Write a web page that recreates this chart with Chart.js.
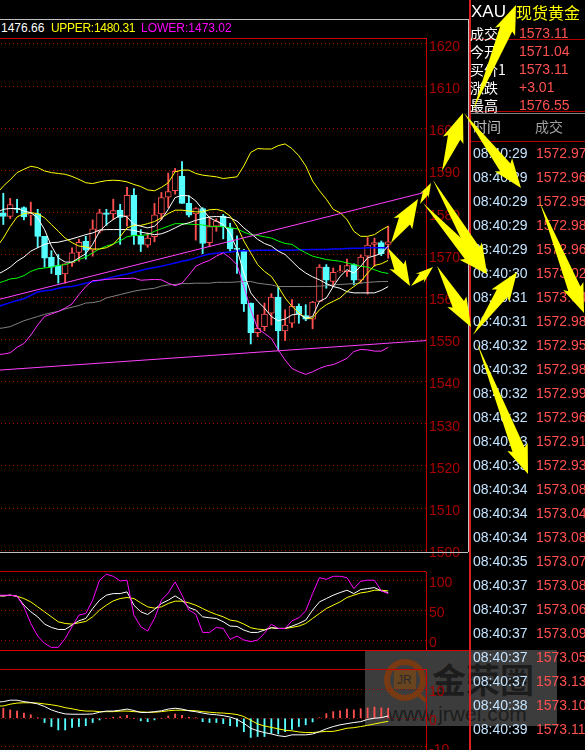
<!DOCTYPE html>
<html>
<head>
<meta charset="utf-8">
<script src="https://cdn.jsdelivr.net/npm/chart.js@4"></script>
<style>
html, body { margin: 0; background: #000; overflow: hidden; }
#page { position: relative; width: 585px; height: 750px; overflow: hidden; background: #000; font-family: "Liberation Sans", sans-serif; }
canvas, .txt, .rule, svg, #mark { position: absolute; }
.txt { white-space: nowrap; font-size: 14px; line-height: 18px; }
.cjk { font-family: "Noto Sans CJK SC", sans-serif; }
</style>
</head>
<body>
<div id="page">
    <div id="mark" style="left:365px;top:650px;width:192px;height:76px;background:#3c3c3c">
        <svg width="192" height="76" style="left:0;top:0">
            <circle cx="40" cy="30" r="18" fill="none" stroke="rgb(120,58,18)" stroke-width="6"></circle>
            <path d="M52 43 L61 51" stroke="rgb(120,58,18)" stroke-width="4"></path>
            <rect x="29" y="20" width="22" height="19" fill="rgb(105,68,30)"></rect>
            <text x="32" y="34" font-size="12" fill="#2a2a2a" font-family="Liberation Sans">JR</text>
        </svg>
        <div class="txt cjk" style="left:67px;top:9px;font-size:34px;line-height:40px;font-weight:700;color:#1c1c1c">金荣圈</div>
        <div class="txt" style="left:23px;top:53px;font-size:21px;line-height:22px;color:#1c1c1c">www.jrwei.com</div>
    </div>
    <canvas id="price-chart" style="left:-7px;top:38px"></canvas>
    <canvas id="kdj-chart" style="left:-7px;top:572px"></canvas>
    <canvas id="macd-chart" style="left:-7px;top:669px"></canvas>
    <div id="panel"></div>
    <svg id="arrows" width="585" height="750" style="left:0;top:0"></svg>
</div>
<script>
// candles, oldest first
const opens = [1580,1579.1,1581.1,1581.2,1579.4,1579.8,1574.4,1569.4,1567.5,1565.5,1568.1,1570.6,1573.2,1571.1,1575.6,1580,1579.7,1580.6,1579.2,1584.1,1574.4,1572.3,1574.3,1579.7,1583.7,1585.2,1588.7,1582.2,1579.7,1581,1572.9,1576.8,1579.2,1576.4,1571.6,1571.1,1558.6,1551.6,1553,1556.2,1560,1552,1553.8,1557.8,1555.6,1554.8,1559,1567.1,1563.7,1566,1566,1567.7,1564,1569.7,1572.5,1572.9,1572.5];
const closes = [1579.1,1581.9,1580.8,1579,1579.8,1574.4,1569.2,1567.1,1565.3,1567.9,1570.5,1573,1571.1,1576.2,1580,1579.6,1580.5,1578.9,1584.1,1574.6,1572.5,1574,1579.5,1583.6,1585,1589.8,1582.2,1579.4,1581,1572.7,1576.7,1578,1576.7,1571.4,1571.3,1558.4,1551.6,1552.6,1556,1560,1552,1553.4,1557.8,1556,1554.8,1558.8,1567.1,1564,1565.9,1566.2,1567.5,1564,1569.5,1572.3,1572.9,1570.3,1573.1];
const highs = [1584.6,1583.4,1583.2,1581.4,1582.5,1580.8,1574.4,1571,1570.1,1567.9,1571.7,1573.7,1574.4,1578.3,1580.8,1580.8,1583.2,1582,1586,1585.7,1576,1575.2,1582.2,1584.8,1589.4,1590.5,1592.1,1584,1581.2,1581.2,1579,1578.6,1579.6,1577.5,1574.5,1571.3,1558.6,1555.8,1558.6,1560.8,1562.5,1557,1559.4,1558.4,1558.2,1559,1567.7,1567.7,1566.9,1567.5,1569,1567.9,1570,1574.1,1574,1573.3,1576.8];
const lows = [1577.2,1578.6,1580,1578.3,1577,1571.7,1567.1,1565.6,1563.3,1563.3,1567.3,1568.5,1569,1569.7,1575.2,1577,1578.4,1572.5,1576.8,1572.5,1570.8,1571.8,1573.1,1578.3,1581.2,1584.4,1582.2,1579,1573.5,1570.3,1572,1575.6,1573.8,1570.9,1565.6,1556.6,1548.9,1550.6,1552,1553.4,1547.5,1549.7,1552.8,1553.8,1554.4,1552.5,1559,1562.1,1562.5,1565.9,1564.9,1562.9,1563.3,1560.7,1567.3,1569.8,1569.2];

// overlay lines on the price panel, first value belongs to the slot cut off at the left edge
const upperBand = [1584.4,1586.3,1587.8,1589.5,1590.3,1591,1590.7,1589.9,1589.5,1589.3,1589.1,1588.6,1587.9,1587.1,1586.9,1587.3,1587.6,1587.7,1587.6,1587.3,1586.7,1586.2,1585.4,1585.2,1586,1587.1,1589.7,1590.1,1590.1,1589.3,1588.9,1588.7,1588.5,1588.1,1588.3,1588.5,1591.1,1594.3,1595.2,1595.1,1595.1,1595.9,1596.3,1595.2,1593.5,1591.1,1587.5,1585.2,1583.2,1580.8,1580,1578.4,1575.6,1574.4,1574.4,1574.8,1575.9,1576.8];
const lowerBand = [1546.4,1546.5,1546.8,1548.1,1549,1551,1553.4,1555.4,1556,1556.6,1557.4,1558.4,1560.6,1562.5,1563.9,1564,1564.2,1564.3,1564.4,1564.4,1564.5,1564,1564.1,1564.2,1564.1,1563.3,1562.7,1563.3,1565.2,1567.3,1568.1,1568.7,1569.7,1570.5,1569.3,1567.7,1562.5,1557,1552.6,1551.4,1550.2,1547.5,1545.1,1543.1,1542.3,1541.7,1542.3,1543.1,1543.7,1544,1544.7,1545.5,1547.1,1547.6,1547.5,1547.2,1547.2,1548.1];
const ma5 = [1580,1580.8,1581,1581,1580.4,1580,1578.8,1576,1572.1,1569.3,1568.3,1568.3,1569.3,1570.3,1572.5,1575.6,1577.2,1578.4,1579.4,1579,1577.2,1576.8,1576.4,1576.8,1578.4,1580.8,1583.6,1584.1,1584,1582.8,1580.8,1578.8,1578,1577.2,1575.2,1571.3,1565.7,1561,1559,1557.4,1555.4,1554.4,1554.8,1555.8,1556,1555,1555.4,1559,1559.8,1562.5,1564.9,1566.5,1565.7,1567.3,1569.3,1569.8,1570.3,1572.1];
const ma10 = [1571.7,1574,1576.7,1579,1579.8,1580,1579.8,1578.8,1577.2,1575.6,1574,1572.9,1572.1,1571.9,1571.4,1571.4,1571.7,1572.5,1574.3,1576.4,1577,1577,1577.4,1577.9,1578.8,1579.8,1580.6,1580.6,1580.4,1580.2,1580.2,1580.7,1580.8,1580.4,1579.2,1576.8,1573.3,1570.5,1567.7,1566.1,1564.9,1562.5,1559.8,1557.8,1556.3,1555,1555,1557,1558.2,1559,1559.8,1561.3,1562.5,1563.7,1565.7,1567.5,1567.9,1568.7];
const ma20 = [1565.3,1566.1,1567.1,1568.5,1569.5,1570.9,1571.7,1572.5,1572.9,1573,1573.4,1573.8,1574.3,1574.8,1575.2,1575.9,1576,1576,1576,1576,1575.8,1575.4,1575.1,1574.8,1575,1575.6,1576.4,1577.2,1577.6,1578.2,1578.6,1579,1579.1,1579,1578.8,1578,1576.4,1575.1,1573.7,1572.7,1572.1,1570.9,1570.1,1568.5,1566.9,1565.7,1564.8,1564.1,1563.2,1562.5,1562.1,1561.3,1561,1561,1561,1561,1561.6,1562.5];
const ma30 = [1563.2,1563.7,1564.3,1564.5,1565.1,1566.1,1566.7,1566.9,1567.1,1567.5,1567.7,1568.3,1568.9,1569.5,1570.5,1571.4,1572.1,1572.6,1573.3,1574.3,1574.6,1574.6,1574.8,1575.6,1576.2,1576.8,1577.4,1577.4,1577.3,1577.2,1577.1,1576.8,1576.7,1576.7,1576.4,1576.2,1575.4,1574.8,1574.6,1574.3,1574,1573.3,1572.7,1572.5,1571.4,1570.5,1569.7,1569.3,1568.9,1568.7,1568.5,1568.1,1567.7,1567.3,1567.1,1566.5,1565.9,1565.6];
const ma60 = [1557.6,1558.2,1558.7,1559.2,1559.6,1560.4,1561.2,1561.5,1561.7,1562.1,1562.4,1562.5,1562.9,1563.3,1563.7,1564,1564.4,1564.8,1565.2,1565.5,1565.9,1566.3,1566.7,1567,1567.3,1567.7,1568.1,1568.5,1568.8,1569.3,1569.8,1570.2,1570.4,1570.6,1570.7,1570.9,1571,1571,1571.1,1571.1,1571.1,1571.1,1571.1,1571.1,1571.2,1571.2,1571.3,1571.3,1571.3,1571.4,1571.4,1571.5,1571.6,1571.6,1571.7,1571.7,1571.7,1571.7];
const ma120 = [1552.5,1552.7,1553,1553.7,1554.4,1554.9,1555.4,1555.9,1556.3,1556.6,1557.2,1557.6,1558,1558.6,1558.7,1559,1559.8,1560.2,1560.6,1561,1561.4,1561.7,1561.9,1562.1,1562.6,1562.9,1563,1563.2,1563.2,1563.3,1563.3,1563.3,1563.5,1563.5,1563.5,1563.6,1563.7,1563.7,1563.3,1563.1,1562.9,1562.5,1562.5,1562.5,1562.5,1562.5,1562.5,1562.6,1562.7,1562.9,1563,1563.1,1563.2,1563.3,1563.5,1563.6,1563.7,1563.7];

// hand drawn trend lines, ends only
const trendHigh = [1559.1, 1584.9];
const trendLow = [1542.6, 1549.7];

// KDJ panel
const kdjJ = [75.6,75.6,75.6,73.9,56.1,28.3,7.2,-5,-11.7,-11.7,3.3,22.8,42.2,45,67.2,100.6,110.6,107.2,99.4,100.6,42.2,22.8,15.6,36.7,67.2,79.4,97.8,75.6,50.6,43.9,13.3,13.3,21.7,20,1.7,7.2,0.6,-2.2,0.6,11.7,27.2,20,20,32.8,37.8,49.4,78.3,105,102.2,107.2,107.2,105,86.7,98.9,100.6,100.6,82.8,78.3];
const kdjK = [75,74.4,75.6,73.9,58.9,47.8,39.4,27.2,21.7,18.3,18.3,25.6,32.8,36.7,53.3,67.2,75.6,78.3,78.3,81.1,58.9,47.8,43.3,51.7,61.7,67.2,74.4,67.2,55,50.6,39.4,37.8,36.7,31.1,23.9,23.3,17.2,13.3,13.3,17.2,21.1,20,20,23.9,28.3,33.9,50.6,64.4,70,75.6,80,83.9,78.3,85,86.7,88.3,82.8,80];
const kdjD = [75,74.4,75.6,73.9,70,64.4,56.1,47.8,39.4,31.1,28.3,27.2,29.4,31.7,39.4,50.6,58.9,66.1,70,71.7,70,62.8,56.1,53.9,56.1,61.7,65.6,65.6,62.8,58.9,53.3,47.8,43.3,39.4,33.9,32.2,27.2,21.1,18.9,17.8,21.1,20,20,21.7,23.9,28.3,36.7,45,53.3,58.9,64.4,71.7,75.6,79.4,81.1,83.9,83.9,82.8];

// MACD panel
const macdBars = [3.5,2.9,2.5,1.8,1.2,0.1,-1.5,-2.9,-4.1,-4.1,-3.2,-2.9,-2.6,-1.5,-0.6,0,0.35,0.5,1.05,0,-0.9,-1.2,-0.6,0,0.8,1.5,1.05,0.35,0.1,-1.2,-1.5,-1.5,-1.9,-2.6,-2.9,-4.7,-6.7,-6.4,-6.4,-5.3,-5.5,-4.7,-3.9,-2.9,-2.3,-1.3,0.2,1.6,2.3,2.6,3.2,2.9,3.3,3.6,3.9,3.6,3.5];
const macdDif = [5.6,5.8,6.3,6.3,5.8,5.5,5,4.1,2.9,2.1,1.5,1.4,1.4,1.4,1.5,2.1,2.5,2.5,2.8,3.2,2.7,2,2,2.3,2.6,3.2,3.5,3.2,2.6,2.3,1.8,1.4,1.2,0.9,0.4,-0.4,-1.8,-3.5,-4.4,-5,-5.5,-6.1,-6.4,-5.8,-5.8,-5.8,-5.5,-4.7,-3.7,-2.9,-2.3,-1.9,-1.5,-1.2,-0.4,0,0.2,0.8];
const macdDea = [4.2,4.3,4.9,5.3,5.4,5.4,5.3,5,4.7,4.3,3.7,3.3,2.8,2.5,2.5,2.3,2.3,2.3,2.5,2.5,2.3,2.2,2.1,2.1,2.3,2.6,2.8,2.8,2.7,2.6,2.3,2.1,1.9,1.8,1.6,1.3,0.6,-0.7,-2,-2.7,-3.2,-3.7,-4.2,-4.4,-4.8,-5,-5,-4.8,-4.6,-4.6,-4.1,-3.5,-3.3,-2.9,-2.5,-2,-1.5,-1.1];

const priceTicks = [1620,1610,1600,1590,1580,1570,1560,1550,1540,1530,1520,1510,1500];
const kdjTicks = [100,50,0];
const macdTicks = [10,0,-10];

// right hand quote panel
const quoteLabels = ['成交','今开','买价1','涨跌','最高'];
const quoteValues = ['1573.11','1571.04','1573.11','+3.01','1576.55'];
const tradeTimes = ['08:40:29','08:40:29','08:40:29','08:40:29','08:40:29','08:40:30','08:40:31','08:40:31','08:40:32','08:40:32','08:40:32','08:40:32','08:40:33','08:40:33','08:40:34','08:40:34','08:40:34','08:40:35','08:40:37','08:40:37','08:40:37','08:40:37','08:40:37','08:40:38','08:40:39'];
const tradePrices = ['1572.97','1572.96','1572.95','1572.98','1572.96','1573.02','1573.04','1572.98','1572.95','1572.98','1572.99','1572.96','1572.91','1572.93','1573.08','1573.04','1573.08','1573.07','1573.08','1573.06','1573.09','1573.05','1573.13','1573.10','1573.11'];

// the yellow arrows someone painted on the screenshot: tail x,y then tip x,y
const arrowSegments = [
    [391,243,418,199],[420,204,431,183],[433,180,487,273],[423,203,487,274],
    [388,248,410,286],[411,286,433,267],[437,266,471,327],[473,335,517,272],
    [477,343,528,474],[442,171,463,113],[464,113,521,188],[540,203,584,313],
    [473,110,516,5]
];

const SLOTS = 63; // slot 0 hangs off the left edge of the page
const RED = '#ff5050';
const CYAN = '#55ffff';
const AXIS_RED = '#a80000';
const slotLabels = Array.from({ length: SLOTS }, (_, i) => i);

function lineSet(data, color, width) {
    return { type: 'line', data: data, borderColor: color, borderWidth: width || 1, pointRadius: 0, order: 1, tension: 0 };
}

function trendSet(ends) {
    return {
        type: 'line',
        xAxisID: 'xEdge',
        data: [{ x: 0, y: ends[0] }, { x: 1, y: ends[1] }],
        borderColor: '#ff40ff',
        borderWidth: 1,
        pointRadius: 0,
        order: 0
    };
}

// all three panels share the same axes setup
function makeChart(id, height, bottomPad, min, max, ticks, datasets) {
    const el = document.getElementById(id);
    el.width = 477;
    el.height = height;
    return new Chart(el, {
        type: 'bar',
        data: { labels: slotLabels, datasets: datasets },
        options: {
            responsive: false,
            animation: false,
            devicePixelRatio: 1,
            layout: { padding: { bottom: bottomPad } },
            plugins: { legend: { display: false }, tooltip: { enabled: false } },
            scales: {
                x: { display: false },
                xEdge: { type: 'linear', display: false, offset: false, min: 0, max: 1 },
                y: {
                    position: 'right',
                    min: min,
                    max: max,
                    afterBuildTicks: scale => { scale.ticks = ticks.map(v => ({ value: v })); },
                    afterFit: scale => { scale.width = 44; scale.paddingTop = 0; scale.paddingBottom = 0; },
                    grid: { color: AXIS_RED, drawTicks: false, lineWidth: 1 },
                    border: { display: true, color: '#c80000', dash: [1, 3] },
                    ticks: {
                        color: AXIS_RED,
                        font: { family: 'Liberation Sans', size: 14 },
                        padding: 3,
                        labelOffset: 3,
                        autoSkip: false,
                        callback: v => v
                    }
                }
            }
        }
    });
}

const isUp = opens.map((o, i) => closes[i] >= o);

makeChart('price-chart', 526, 12, 1499.6, 1621.4, priceTicks, [
    trendSet(trendHigh),
    trendSet(trendLow),
    lineSet(upperBand, '#ffff00'),
    lineSet(lowerBand, '#ff30ff'),
    lineSet(ma5, '#ffffff'),
    lineSet(ma10, '#ffff00'),
    lineSet(ma20, '#ffffff'),
    lineSet(ma30, '#00ff00'),
    lineSet(ma60, '#0000ff', 1.5),
    lineSet(ma120, '#808080'),
    {
        data: [null].concat(opens.map((o, i) => [Math.min(o, closes[i]), Math.max(o, closes[i])])),
        backgroundColor: [null].concat(isUp.map(u => u ? '#000000' : CYAN)),
        borderColor: [null].concat(isUp.map(u => u ? RED : CYAN)),
        borderWidth: 1,
        borderSkipped: false,
        barThickness: 6,
        grouped: false,
        order: 2
    },
    {
        data: [null].concat(lows.map((l, i) => [l, highs[i]])),
        backgroundColor: [null].concat(isUp.map(u => u ? RED : CYAN)),
        barThickness: 1.2,
        grouped: false,
        order: 3
    }
]);

makeChart('kdj-chart', 78, 0, -16.1, 114.4, kdjTicks, [
    lineSet(kdjJ, '#ff00ff'),
    lineSet(kdjK, '#ffffff'),
    lineSet(kdjD, '#ffff00')
]);

makeChart('macd-chart', 81, 0, -11.1, 17.2, macdTicks, [
    lineSet(macdDif, '#ffffff'),
    lineSet(macdDea, '#ffff00'),
    {
        data: [null].concat(macdBars),
        backgroundColor: [null].concat(macdBars.map(v => v >= 0 ? RED : CYAN)),
        barThickness: 1.2,
        grouped: false,
        order: 2
    }
]);

// panel text and frame lines
const panel = document.getElementById('panel');

function addRule(x, y, w, h, color) {
    const d = document.createElement('div');
    d.className = 'rule';
    d.style.cssText = `left:${x}px;top:${y}px;width:${w}px;height:${h}px;background:${color}`;
    panel.appendChild(d);
}

function addText(x, y, text, color, size, cjk) {
    const d = document.createElement('div');
    d.className = cjk ? 'txt cjk' : 'txt';
    d.style.cssText = `left:${x}px;top:${y - 9}px;color:${color};font-size:${size || 14}px`;
    d.textContent = text;
    panel.appendChild(d);
    return d;
}

addRule(0, 19, 468, 1, '#c0c0c0');
addRule(468, 19, 1, 533, '#c0c0c0');
addRule(0, 552, 468, 1, '#c0c0c0');
addRule(0, 38, 426, 1, '#c80000');
addRule(0, 571, 426, 1, '#c80000');
addRule(0, 650, 470, 1, '#e00000');
addRule(0, 669, 426, 1, '#c80000');
addRule(469, 0, 2, 750, '#d82020');
addRule(471, 39, 114, 1, '#b00000');
addRule(471, 111, 114, 1, '#b00000');
addRule(471, 113, 114, 1, '#808080');
addRule(471, 141, 114, 1, '#b00000');

addText(1, 28, '1476.66', '#ffffff', 12);
addText(51, 28, 'UPPER:1480.31', '#ffff00', 12).style.letterSpacing = '-0.3px';
addText(141, 28, 'LOWER:1473.02', '#ff00ff', 12);

addText(471, 12, 'XAU', '#ffffff', 17);
addText(516, 12, '现货黄金', '#ffff00', 16, true);
quoteLabels.forEach((label, i) => {
    addText(470, 33 + i * 18, label, '#ffffff', 14, true);
    addText(519, 33 + i * 18, quoteValues[i], RED);
});
addText(473, 126, '时间', '#c0c0c0', 14, true);
addText(535, 126, '成交', '#a0a0a0', 14, true);
tradeTimes.forEach((t, i) => {
    addText(473, 153 + i * 24, t, '#c4e4ff');
    addText(536, 153 + i * 24, tradePrices[i], RED);
});

// arrows are a thin tail growing to a barbed head
const svg = document.getElementById('arrows');
arrowSegments.forEach(seg => {
    const [x1, y1, x2, y2] = seg;
    const len = Math.hypot(x2 - x1, y2 - y1);
    const ux = (x2 - x1) / len, uy = (y2 - y1) / len;
    const head = Math.min(26, len * 0.5);
    const neck = head * 0.25, barb = head * 0.42;
    const at = (along, side) => (x1 + ux * along - uy * side).toFixed(1) + ',' + (y1 + uy * along + ux * side).toFixed(1);
    const points = [at(0, 0), at(len - head, neck), at(len - head - 3, barb), at(len, 0), at(len - head - 3, -barb), at(len - head, -neck)];
    const poly = document.createElementNS('http://www.w3.org/2000/svg', 'polygon');
    poly.setAttribute('points', points.join(' '));
    poly.setAttribute('fill', '#ffff00');
    svg.appendChild(poly);
});
</script>
</body>
</html>
